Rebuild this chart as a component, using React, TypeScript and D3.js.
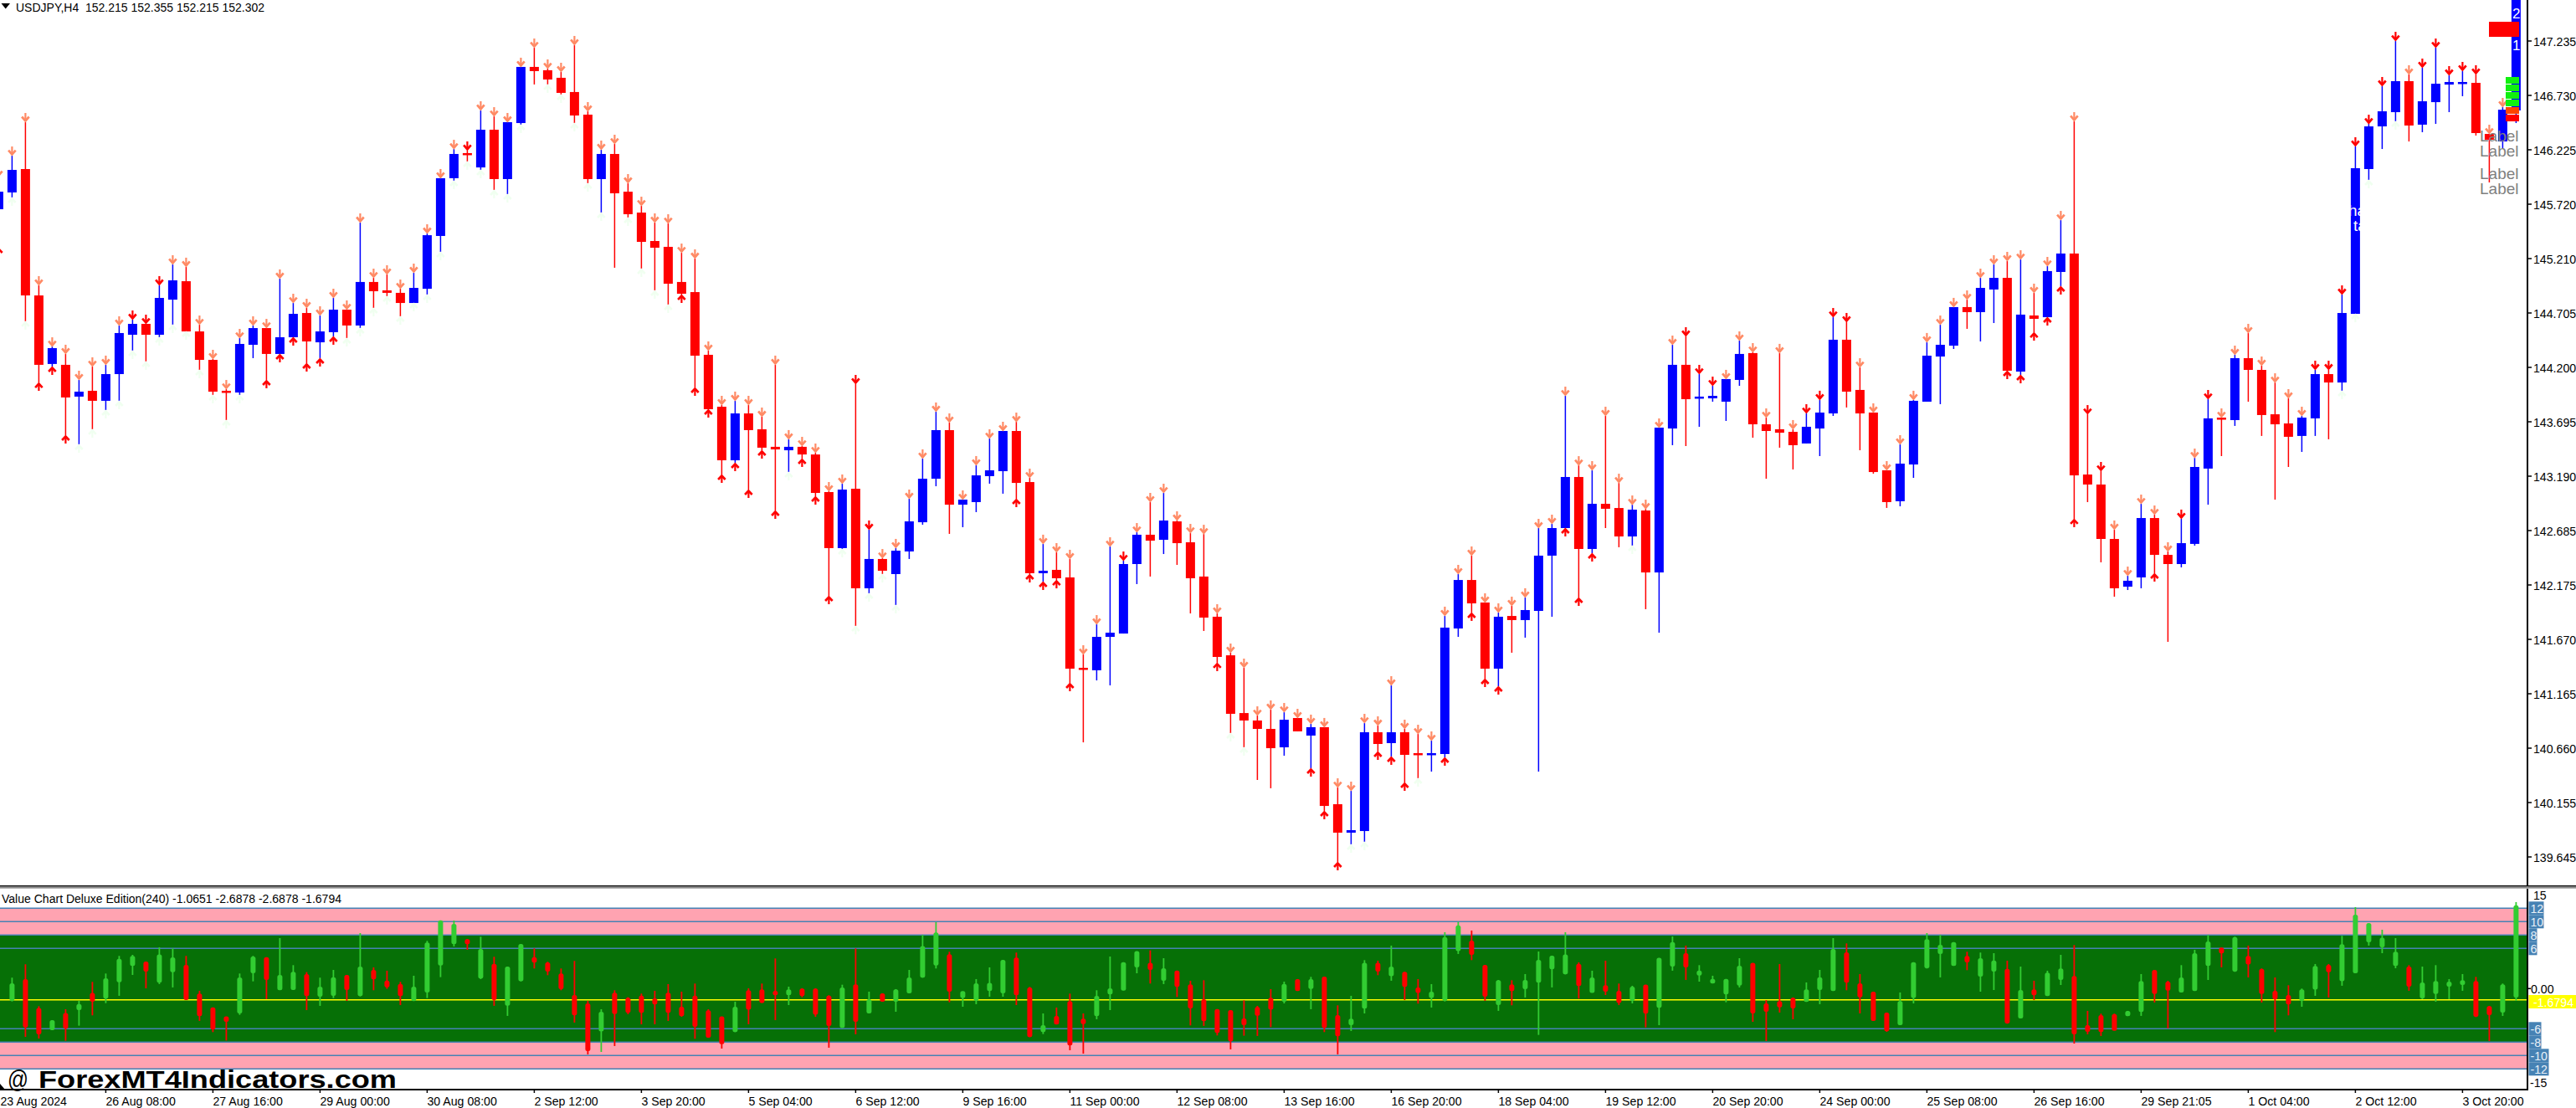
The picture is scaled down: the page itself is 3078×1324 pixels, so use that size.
import React from "react";
import * as d3 from "d3";

const symbolTitle = "USDJPY,H4  152.215 152.355 152.215 152.302";
const indicatorTitle = "Value Chart Deluxe Edition(240) -1.0651 -2.6878 -2.6878 -1.6794";
const watermark = "ForexMT4Indicators.com";

const priceTickLabels = ["147.235","146.730","146.225","145.720","145.210","144.705","144.200","143.695","143.190","142.685","142.175","141.670","141.165","140.660","140.155","139.645"];
const timeTickLabels = ["23 Aug 2024","26 Aug 08:00","27 Aug 16:00","29 Aug 00:00","30 Aug 08:00","2 Sep 12:00","3 Sep 20:00","5 Sep 04:00","6 Sep 12:00","9 Sep 16:00","11 Sep 00:00","12 Sep 08:00","13 Sep 16:00","16 Sep 20:00","18 Sep 04:00","19 Sep 12:00","20 Sep 20:00","24 Sep 00:00","25 Sep 08:00","26 Sep 16:00","29 Sep 21:05","1 Oct 04:00","2 Oct 12:00","3 Oct 20:00"];
const barsPerTimeTick = 8;
const levelTicks = [12, 10, 8, 6, -6, -8, -10, -12];
const overboughtBands = [[8, 12], [-12, -8]];
const lastValue = -1.6794;

const highs = [
145.977,146.171,146.482,144.968,144.400,144.331,144.090,144.214,144.230,144.595,
144.649,144.610,144.968,145.162,145.139,144.602,144.284,144.004,144.478,144.595,
144.571,145.030,144.804,144.758,144.688,144.851,144.742,145.550,145.037,145.069,
144.936,145.084,145.449,145.962,146.233,146.218,146.591,146.536,146.482,146.995,
147.173,146.979,146.948,147.197,146.583,146.226,146.280,145.915,145.705,145.550,
145.542,145.270,145.216,144.362,143.857,143.896,143.857,143.748,144.230,143.539,
143.476,143.414,143.057,143.127,144.051,142.700,142.435,142.529,142.987,143.360,
143.795,143.694,142.979,143.298,143.546,143.616,143.701,143.181,142.568,142.490,
142.428,141.542,141.822,142.544,142.412,142.676,142.956,143.041,142.785,142.668,
142.660,141.923,141.558,141.418,140.975,141.030,141.006,140.952,140.898,140.867,
140.307,140.276,140.905,140.882,141.255,140.851,140.804,140.742,141.900,142.288,
142.459,142.024,141.931,141.993,142.071,142.715,142.754,143.942,143.297,143.251,
143.756,143.134,142.932,142.893,143.647,144.416,144.494,144.144,144.035,144.098,
144.455,144.346,143.740,144.339,143.632,143.779,143.904,144.672,144.626,144.206,
143.787,143.251,143.492,143.904,144.440,144.602,144.766,144.835,145.037,145.162,
145.193,145.208,144.898,145.146,145.573,146.490,143.771,143.243,142.700,142.272,
142.940,142.839,142.498,142.801,143.367,143.911,143.740,144.323,144.525,144.222,
144.066,143.919,143.756,144.183,144.183,144.882,146.257,146.466,146.816,147.235,
146.925,146.987,147.173,146.917,146.956,146.925,146.373,146.622,147.650];

const lows = [
145.317,145.783,144.634,144.066,144.214,143.577,143.492,143.632,143.810,143.896,
144.362,144.261,144.486,144.602,144.540,144.183,143.950,143.717,143.950,144.292,
144.090,144.331,144.486,144.245,144.292,144.494,144.478,144.571,144.758,144.866,
144.680,144.804,144.882,145.278,145.938,146.117,146.039,145.853,145.814,146.459,
146.832,146.832,146.738,146.474,145.915,145.643,145.131,145.597,145.123,144.921,
144.789,144.882,144.020,143.818,143.212,143.321,143.072,143.437,142.878,143.235,
143.360,143.010,142.086,142.521,141.806,142.109,142.288,142.000,142.428,142.746,
143.103,142.661,142.723,142.863,143.127,143.034,142.987,142.288,142.218,142.233,
141.278,140.726,141.301,141.255,141.736,142.195,142.265,142.474,142.373,141.923,
141.760,141.465,140.812,140.680,140.377,140.300,140.602,140.828,140.486,140.090,
139.616,139.779,139.803,140.641,140.595,140.354,140.393,140.455,140.587,141.705,
141.931,141.317,141.247,141.558,141.698,140.455,141.892,142.715,142.070,142.482,
142.715,142.537,142.552,141.962,141.744,143.484,143.476,143.655,143.888,143.709,
144.035,143.554,143.173,143.461,143.259,143.500,143.383,143.756,143.834,143.437,
143.220,142.902,142.917,143.181,143.888,143.865,144.377,144.564,144.447,144.618,
144.175,144.136,144.532,144.672,144.960,142.801,142.956,142.397,142.078,142.140,
142.156,142.296,141.659,142.350,142.552,142.932,143.383,143.663,143.888,143.570,
142.979,143.282,143.422,143.570,143.539,143.989,144.703,145.946,146.233,146.490,
146.303,146.389,146.466,146.575,146.723,146.358,145.923,146.241,146.474];

const bodyUppers = [
145.837,146.039,146.047,144.874,144.385,144.230,143.981,143.989,144.144,144.525,
144.610,144.610,144.851,145.014,145.006,144.540,144.276,143.989,144.424,144.571,
144.571,144.486,144.703,144.711,144.540,144.742,144.742,144.999,144.999,144.921,
144.898,144.944,145.433,145.962,146.187,146.195,146.412,146.412,146.482,146.995,
146.995,146.964,146.894,146.762,146.552,146.187,146.187,145.837,145.643,145.379,
145.325,144.999,144.905,144.323,143.841,143.779,143.779,143.632,143.469,143.469,
143.469,143.398,143.049,143.072,143.080,142.428,142.428,142.505,142.777,143.173,
143.624,143.624,142.979,143.204,143.251,143.616,143.616,143.142,142.319,142.327,
142.257,141.418,141.705,141.744,142.381,142.653,142.653,142.785,142.777,142.583,
142.265,141.892,141.534,140.998,140.929,140.851,140.936,140.952,140.867,140.867,
140.152,139.911,140.820,140.820,140.820,140.820,140.626,140.626,141.791,142.233,
142.233,142.024,141.892,141.899,141.954,142.459,142.715,143.189,143.189,142.940,
142.940,142.901,142.886,142.878,143.647,144.230,144.230,143.935,143.942,144.098,
144.331,144.339,143.678,143.632,143.608,143.655,143.787,144.463,144.463,143.997,
143.787,143.251,143.313,143.896,144.315,144.416,144.766,144.766,144.944,145.037,
145.037,144.696,144.688,145.100,145.263,145.263,143.212,143.119,142.614,142.226,
142.808,142.808,142.466,142.575,143.282,143.733,143.740,144.292,144.292,144.183,
143.771,143.686,143.740,144.144,144.144,144.711,146.055,146.443,146.583,146.863,
146.863,146.676,146.839,146.855,146.855,146.847,146.373,146.598,147.650];

const bodyLowers = [
145.674,145.830,144.874,144.230,144.238,143.927,143.935,143.896,143.896,144.144,
144.509,144.509,144.509,144.835,144.540,144.276,143.981,143.973,143.973,144.416,
144.331,144.331,144.486,144.447,144.439,144.533,144.595,144.595,144.913,144.898,
144.804,144.804,144.936,145.426,145.962,146.187,146.062,145.954,145.954,146.474,
146.956,146.878,146.754,146.544,145.954,145.954,145.822,145.628,145.371,145.317,
144.983,144.890,144.315,143.818,143.344,143.344,143.624,143.461,143.445,143.437,
143.398,143.041,142.529,142.529,142.156,142.156,142.319,142.288,142.498,142.769,
143.173,142.932,142.932,142.956,143.197,143.243,143.134,142.296,142.296,142.249,
141.410,141.402,141.395,141.705,141.736,142.381,142.598,142.606,142.575,142.249,
141.884,141.519,140.991,140.929,140.851,140.672,140.680,140.828,140.789,140.136,
139.888,139.888,139.903,140.711,140.719,140.610,140.610,140.610,140.618,141.783,
142.016,141.410,141.410,141.861,141.861,141.946,142.459,142.715,142.521,142.521,
142.894,142.637,142.637,142.303,142.303,143.639,143.911,143.919,143.919,143.888,
144.090,143.678,143.616,143.600,143.484,143.500,143.639,143.779,143.981,143.779,
143.235,142.956,142.964,143.305,143.888,144.307,144.408,144.719,144.719,144.929,
144.175,144.167,144.657,144.672,145.092,143.204,143.119,142.614,142.156,142.171,
142.257,142.466,142.381,142.381,142.568,143.267,143.725,143.717,144.183,143.764,
143.678,143.562,143.570,143.733,144.066,144.066,144.703,146.047,146.443,146.575,
146.451,146.459,146.668,146.831,146.839,146.381,146.319,146.303,146.591];

// b = close above open, r = close below open
const directions =
"bbrrbrbrbb" + "brbbrrrrbb" + "rbbrbbrbrr" + "rbbbbrbrbb" + "rrrrrbrrrr" +
"rrrrrbrrrb" + "rrrbrbrbbb" + "brbbbbrrbr" + "rrbbbbrbrr" + "rrrrrrbrbr" +
"rbbrbrrbbb" + "rrbrbbbbrb" + "rrbrbbrbbb" + "brrrrbbbrr" + "rrbbbbbrbb" +
"rbrbbrrrrb" + "brrbbbrbrr" + "rrbbrbbbbb" + "rbbbbrrbb";

// o = salmon signal, r = red signal
const upperSignals =
"oooooooooo" + "rrrooooooo" + "oooooooooo" + "oooooroooo" + "oooooooooo" +
"oooooooooo" + "oooorroooo" + "oooooooooo" + "oooorooooo" + "oooooooooo" +
"oooooooooo" + "oooooooooo" + "oooooorrro" + "ooooorrrro" + "oooooooooo" +
"oooooorroo" + "ooororoooo" + "ooorrrrrrr" + "orrrrrooo";

// r = red signal, p = pale signal, n = none
const lowerSignals =
"rpprrrpppp" + "pppppppppn" + "rrrrrrpppp" + "pppppppppp" + "npppppnppp" +
"prrrrrrrrp" + "rrrpppppnn" + "nnnnnnrrrr" + "rnnnnnnnnn" + "nrppnnnnrr" +
"rpprrrpnrn" + "rrrnnnnrrr" + "nnpnnnnnnn" + "nnnnnnnnnn" + "nnnnnnnnnn" +
"rrrrrrnnnn" + "nrnnnnnnnn" + "nnnnnpppnp" + "nnnnnnnnn";

// Value chart, bars 1 to 188
const valueHighs = [
1.63,3.63,-2.63,-4.71,-3.08,-1.83,1.0,2.25,4.88,5.04,4.0,6.17,6.0,4.88,-.33,-2.83,-4.21,2.25,4.88,4.67,
7.54,3.5,2.46,1.63,2.79,2.04,8.29,3.17,2.67,1.0,1.92,7.13,10.17,10.17,7.38,7.75,4.75,3.29,6.63,6.0,
4.0,3.0,4.13,-1.83,-3.08,-.25,-1.29,-.75,-.33,.67,-.46,.75,-3.08,-4.21,-1.96,.04,.75,4.5,.29,.04,
.04,-1.0,.58,6.0,-.46,-.75,-.08,2.79,8.0,9.92,5.5,-.46,1.42,3.17,4.25,5.38,.25,-3.71,-2.83,-.75,
-3.71,-.25,4.79,3.92,5.5,5.71,4.54,2.67,1.17,1.25,-3.08,-3.25,-1.75,-2.58,-.08,1.04,1.42,1.75,1.75,-2.5,
-1.08,4.25,4.17,6.42,2.46,1.42,.67,8.42,9.96,8.67,3.5,1.29,1.25,2.17,5.54,4.92,8.42,3.92,2.67,4.17,
.75,.42,.5,4.54,7.79,6.42,3.5,1.92,1.42,4.54,3.79,-1.71,3.67,-1.33,.92,2.79,7.54,6.75,2.17,-.46,
-3.58,-.58,3.92,8.29,8.0,6.92,5.5,5.38,5.29,4.17,3.29,1.17,2.67,5.04,6.5,-3.33,-3.75,-3.75,-3.33,2.17,
2.75,1.17,3.5,5.79,8.0,6.08,7.75,6.42,3.0,1.67,.5,0,3.67,3.67,7.88,12.17,9.75,8.79,7.54,3.5,
3.29,3.5,1.42,2.17,1.75,-2.58,.75,12.92];

const valueBodyUppers = [
.67,1.29,-3.04,-4.83,-3.79,-2.42,-.79,1.42,4.33,4.75,3.92,4.96,4.54,3.42,-.88,-2.92,-4.29,1.54,4.67,4.58,
1.92,2.38,2.04,.17,1.58,1.92,3.17,2.67,1.08,.58,.17,6.75,10.08,9.54,7.25,5.79,3.58,3.17,6.54,4.58,
3.79,2.13,-1.08,-2.33,-3.58,-.75,-1.5,-1.17,-1.58,-.75,-2.83,-1.17,-3.38,-4.29,-2.83,-.38,-.25,-.46,-.25,-.13,
-.13,-1.17,.04,.5,-1.71,-.83,-.25,1.54,6.21,8.25,5.0,-.5,.67,.71,4.17,4.5,.04,-5.58,-4.21,-2.0,
-4.63,-1.21,-.08,3.83,5.46,3.71,2.92,2.58,.5,-1.71,-3.17,-3.33,-4.58,-2.88,-1.5,.58,1.29,1.29,1.67,-4.08,
-4.63,3.71,3.71,3.17,2.38,.04,-.58,7.58,9.33,7.04,3.42,1.13,.5,1.17,4.17,4.79,4.96,3.58,1.54,.38,
-.46,.17,.46,4.46,6.83,5.17,2.58,1.33,1.33,3.29,3.71,-2.33,-2.0,-1.5,-.25,1.58,5.79,5.29,.67,-.58,
-3.71,-2.0,3.83,7.25,6.42,6.83,4.75,4.42,4.08,2.83,-.33,-.25,2.25,2.88,1.75,-5.58,-4.08,-3.92,-3.46,1.0,
2.67,.92,1.54,5.17,6.92,6.0,7.58,4.75,2.83,-.46,-1.08,-.25,3.25,3.42,6.5,10.92,9.67,7.46,5.38,3.17,
.79,1.0,.92,1.13,1.0,-2.75,.5,12.33];

const valueBodyLowers = [
-1.71,-5.67,-6.71,-6.08,-5.88,-3.08,-1.83,-1.38,1.08,3.5,2.67,1.0,2.58,-1.58,-4.0,-6.0,-4.83,-3.58,2.42,1.42,
-.13,-.08,-1.0,-1.08,-.96,-.08,-1.0,1.5,.33,-1.0,-1.75,-.46,3.58,6.75,6.75,1.63,-1.58,-2.42,1.21,4.0,
2.67,.04,-3.88,-9.21,-6.29,-3.67,-3.5,-3.5,-2.25,-3.5,-4.0,-5.58,-7.21,-8.17,-6.38,-3.04,-2.04,-.88,-.88,-1.0,
-3.79,-5.46,-5.75,-4.83,-3.58,-1.83,-1.83,-.58,1.75,3.58,-.33,-1.29,-1.71,-.25,-.58,-.88,-7.13,-6.38,-5.25,-8.38,
-5.17,-4.0,-.75,-.17,3.29,2.92,1.29,.38,-2.83,-4.75,-6.5,-7.75,-5.33,-3.92,-3.04,-1.83,-.25,.08,-5.75,-7.0,
-5.33,-2.88,2.67,1.96,.38,-.54,-1.29,-1.71,5.71,5.17,-1.08,-2.33,-.25,.04,1.0,3.0,2.25,.5,-.54,-.33,
-2.04,-1.71,-3.63,-2.75,3.42,3.29,2.08,.88,-.75,.58,-3.58,-3.33,-2.67,-2.83,-1.88,-.08,-.25,1.0,-1.17,-4.71,
-6.25,-5.33,-1.29,3.17,5.29,3.5,4.04,1.92,2.67,-5.08,-4.33,-.88,-1.0,1.42,-6.71,-6.33,-6.38,-6.17,-4.0,-3.38,
-.67,-.17,-.46,-.25,3.5,5.38,2.67,3.71,-.67,-1.5,-2.25,-1.71,-.04,2.58,1.21,2.42,7.04,6.29,3.5,.42,
-1.33,-.67,.42,.67,-4.08,-3.83,-3.46,-1.21];

const valueLows = [
-1.92,-7.21,-7.46,-6.21,-7.79,-5.54,-4.0,-2.17,-1.08,2.04,.04,.67,.17,-1.71,-4.83,-6.5,-7.75,-3.92,1.08,-1.58,
-.17,-.17,-3.21,-2.58,-1.42,-1.83,-1.17,-.25,-.04,-2.46,-1.83,-1.42,1.71,6.29,5.79,1.42,-2.58,-4.08,1.08,3.0,
2.0,-.25,-5.08,-9.83,-9.46,-8.58,-3.83,-5.33,-5.33,-4.83,-4.21,-7.5,-7.33,-8.96,-6.5,-5.33,-2.13,-4.71,-2.46,-1.29,
-4.21,-8.83,-5.88,-6.83,-3.71,-1.92,-3.46,-.71,1.63,3.0,-2.04,-2.71,-2.33,-1.21,-1.21,-2.46,-7.25,-6.79,-5.33,-9.21,
-9.71,-4.58,-3.21,-.25,2.29,.75,.67,-1.25,-5.5,-5.58,-7.0,-9.08,-7.04,-7.08,-5.75,-2.21,-.33,-3.08,-6.5,-9.83,
-6.33,-3.71,2.0,1.17,-1.71,-2.25,-2.83,-1.92,5.17,4.25,-1.83,-3.33,-2.5,-1.33,-6.92,.17,2.13,-1.5,-.58,-.96,
-2.46,-2.21,-5.79,-5.46,2.67,1.29,1.04,.79,-2.04,.17,-4.96,-7.83,-3.58,-4.58,-1.96,-2.33,-.33,-.25,-3.71,-4.83,
-6.46,-5.46,-2.21,3.0,1.67,3.42,2.75,-.46,-.21,-5.25,-4.46,-1.71,-1.08,.54,-8.21,-6.83,-7.08,-6.21,-4.08,-4.08,
-2.08,-5.96,-.58,-.33,1.29,3.17,2.5,1.67,-2.08,-6.5,-4.0,-2.71,-1.08,-1.33,.42,2.29,6.42,5.29,3.04,-.33,
-1.58,-1.96,-1.58,-.33,-4.25,-7.83,-4.08,-1.83];

const levelLabels = ["Label", "Label", "Label", "Label"];

// ---- layout
const WIDTH = 3078;
const HEIGHT = 1324;
const PLOT_RIGHT = 3020;
const MAIN_BOTTOM = 1058;
const SUB_BOTTOM = 1302;

const xBar = d3.scaleLinear().domain([0, 188]).range([-1.6, 3006.4]);
const yPrice = d3.scaleLinear().domain([147.616, 139.849]).range([0, 1000]);
const yValue = d3.scaleLinear().domain([-15, 15]).range([1301.3, 1061.3]);
const yPriceTick = d3.scalePoint<string>().domain(priceTickLabels).range([49, 1024]);

const BLUE = "#0000FF";
const RED = "#FF0000";
const SALMON = "#FF8A65";
const PALE = "#F0FFF0";
const GREEN_CANDLE = "#32CD32";
const BAND_GREEN = "#067006";
const BAND_PINK = "#FFA3B1";
const LEVEL_BLUE = "#4682B4";
const FONT = "'Liberation Sans', Arial, sans-serif";

const signalColor = (c: string) => (c === "r" ? RED : c === "p" ? PALE : SALMON);

function Txt(p: { x: number; y: number; size?: number; fill?: string; anchor?: string; sx?: number; children: React.ReactNode }) {
  return (
    <text
      transform={`translate(${p.x},${p.y}) scale(${p.sx ?? 0.92},1)`}
      fontFamily={FONT}
      fontSize={p.size ?? 15.4}
      fill={p.fill ?? "#000"}
      textAnchor={p.anchor ?? "start"}
    >
      {p.children}
    </text>
  );
}

function DownArrow({ x, y, color }: { x: number; y: number; color: string }) {
  return (
    <g transform={`translate(${x},${y})`} fill="none" stroke={color} strokeLinejoin="miter">
      <path d="M0,-11V-1" strokeWidth={2.2} />
      <path d="M-4.3,-6.5L0,-1.5L4.3,-6.5" strokeWidth={2.7} />
    </g>
  );
}

function UpArrow({ x, y, color }: { x: number; y: number; color: string }) {
  return (
    <g transform={`translate(${x},${y})`} fill="none" stroke={color} strokeLinejoin="miter">
      <path d="M0,10V1" strokeWidth={2.2} />
      <path d="M-4.3,6L0,1.5L4.3,6" strokeWidth={2.7} />
    </g>
  );
}

export default function App() {
  const bars = d3.range(highs.length);
  const valueBars = d3.range(valueHighs.length);
  return (
    <svg
      width={WIDTH}
      height={HEIGHT}
      viewBox={`0 0 ${WIDTH} ${HEIGHT}`}
      style={{ position: "fixed", left: 0, top: 0, display: "block", background: "#fff" }}
    >
      <defs>
        <clipPath id="mainClip"><rect x={0} y={0} width={PLOT_RIGHT} height={MAIN_BOTTOM} /></clipPath>
        <clipPath id="subClip"><rect x={0} y={1062} width={PLOT_RIGHT} height={SUB_BOTTOM - 1062} /></clipPath>
        <clipPath id="barText"><rect x={2809} y={200} width={11} height={100} /></clipPath>
      </defs>

      {/* main pane */}
      <g clipPath="url(#mainClip)">
        {bars.map((i) => {
          const x = xBar(i);
          const c = directions[i] === "b" ? BLUE : RED;
          const top = yPrice(bodyUppers[i]);
          const bot = yPrice(bodyLowers[i]);
          return (
            <g key={i}>
              <line x1={x} x2={x} y1={yPrice(highs[i])} y2={yPrice(lows[i])} stroke={c} strokeWidth={1.5} />
              <rect x={x - 5.5} y={top} width={11} height={Math.max(bot - top, 2.5)} fill={c} />
            </g>
          );
        })}
        {bars.map((i) => (
          <g key={i}>
            <DownArrow x={xBar(i)} y={yPrice(highs[i])} color={signalColor(upperSignals[i])} />
            {lowerSignals[i] !== "n" && (
              <UpArrow x={xBar(i)} y={yPrice(lows[i])} color={signalColor(lowerSignals[i])} />
            )}
          </g>
        ))}
      </g>

      {/* overlay objects near the last bars */}
      <g clipPath="url(#barText)">
        <Txt x={2806} y={258} size={19} fill="#fff" sx={1}>ha</Txt>
        <Txt x={2812} y={276} size={19} fill="#fff" sx={1}>ta</Txt>
      </g>
      <Txt x={3002} y={22} size={17} fill="#fff" sx={1}>2</Txt>
      <Txt x={3002} y={60} size={17} fill="#fff" sx={1}>1</Txt>
      <rect x={2974} y={26} width={36} height={18} fill={RED} />
      {[92, 101, 110, 119].map((y) => <rect key={y} x={2994} y={y} width={16} height={8} fill="#10F010" />)}
      <rect x={2994} y={128} width={16} height={8} fill="#FF4500" />
      <rect x={2994} y={137} width={16} height={8} fill={RED} />
      {levelLabels.map((t, k) => (
        <Txt key={k} x={3009.5} y={[169, 187, 214, 232][k]} size={19} fill="#808080" anchor="end" sx={1}>{t}</Txt>
      ))}

      {/* title */}
      <path d="M1.5,4H12L6.7,10.5Z" fill="#000" />
      <text x={19} y={13.5} fontFamily={FONT} fontSize={15.4} textLength={297} lengthAdjust="spacingAndGlyphs" style={{ whiteSpace: "pre" }}>{symbolTitle}</text>

      {/* main axis */}
      <line x1={PLOT_RIGHT} x2={PLOT_RIGHT} y1={0} y2={MAIN_BOTTOM} stroke="#000" strokeWidth={2} />
      {priceTickLabels.map((t) => (
        <g key={t}>
          <line x1={PLOT_RIGHT} x2={PLOT_RIGHT + 5} y1={yPriceTick(t)} y2={yPriceTick(t)} stroke="#000" strokeWidth={1.5} />
          <Txt x={3027} y={(yPriceTick(t) as number) + 5.5}>{t}</Txt>
        </g>
      ))}

      {/* pane separator */}
      <line x1={0} x2={WIDTH} y1={1058.7} y2={1058.7} stroke="#000" strokeWidth={1.6} />
      <line x1={0} x2={WIDTH} y1={1060.9} y2={1060.9} stroke="#000" strokeWidth={1} opacity={0.75} />

      {/* value chart */}
      <text x={2} y={1078.5} fontFamily={FONT} fontSize={15.4} textLength={406} lengthAdjust="spacingAndGlyphs">{indicatorTitle}</text>
      <rect x={0} y={yValue(8)} width={PLOT_RIGHT} height={yValue(-8) - yValue(8)} fill={BAND_GREEN} />
      {overboughtBands.map(([a, b]) => (
        <rect key={a} x={0} y={yValue(b)} width={PLOT_RIGHT} height={yValue(a) - yValue(b)} fill={BAND_PINK} />
      ))}
      {levelTicks.map((v) => (
        <line key={v} x1={0} x2={PLOT_RIGHT} y1={yValue(v)} y2={yValue(v)} stroke={LEVEL_BLUE} strokeWidth={1.6} />
      ))}
      <line x1={0} x2={PLOT_RIGHT} y1={yValue(lastValue)} y2={yValue(lastValue)} stroke="#FFFF00" strokeWidth={1.6} />
      <g clipPath="url(#subClip)">
        {valueBars.map((i) => {
          const x = xBar(i + 1);
          const c = directions[i + 1] === "b" ? GREEN_CANDLE : RED;
          const top = yValue(valueBodyUppers[i]);
          const bot = yValue(valueBodyLowers[i]);
          return (
            <g key={i}>
              <line x1={x} x2={x} y1={yValue(valueHighs[i])} y2={yValue(valueLows[i])} stroke={c} strokeWidth={1.8} />
              <rect x={x - 3} y={top - 1} width={6} height={Math.max(bot - top, 2) + 2} rx={2.5} fill={c} />
            </g>
          );
        })}
      </g>

      {/* value axis */}
      <line x1={PLOT_RIGHT} x2={PLOT_RIGHT} y1={1062} y2={SUB_BOTTOM} stroke="#000" strokeWidth={2} />
      {levelTicks.map((v) => {
        const t = String(v);
        const w = t.length === 1 ? 10 : t.length === 2 ? (v < 0 ? 15 : 18) : 24;
        return (
          <g key={v}>
            <rect x={3021.5} y={yValue(v) - 8} width={w} height={16} fill={LEVEL_BLUE} />
            <Txt x={3023.5} y={yValue(v) + 5.5} fill="#E8F0F8">{t}</Txt>
          </g>
        );
      })}
      <Txt x={3027} y={1074.5}>15</Txt>
      <line x1={PLOT_RIGHT} x2={PLOT_RIGHT + 4} y1={yValue(0)} y2={yValue(0)} stroke="#000" strokeWidth={1.5} />
      <Txt x={3024} y={yValue(0) + 6}>0.00</Txt>
      <Txt x={3023} y={1298.5}>-15</Txt>
      <rect x={3021.5} y={1189} width={WIDTH - 3021.5} height={16} fill="#FFFF00" />
      <Txt x={3027} y={1202.5} fill="#fff">{String(lastValue)}</Txt>

      {/* time axis */}
      <line x1={0} x2={PLOT_RIGHT + 1} y1={SUB_BOTTOM} y2={SUB_BOTTOM} stroke="#000" strokeWidth={2} />
      {timeTickLabels.map((t, k) => {
        const x = xBar(k * barsPerTimeTick);
        return (
          <g key={t}>
            <line x1={x} x2={x} y1={SUB_BOTTOM} y2={SUB_BOTTOM + 4} stroke="#000" strokeWidth={1.5} />
            <Txt x={Math.max(x, 0.5)} y={1320.5}>{t}</Txt>
          </g>
        );
      })}

      {/* watermark */}
      <path d="M0,1295L6,1302H0Z" fill="#000" />
      <text x={9} y={1300} fontFamily={FONT} fontSize={30} textLength={25} lengthAdjust="spacingAndGlyphs">@</text>
      <text x={46} y={1300} fontFamily={FONT} fontSize={30} fontWeight="bold" textLength={428} lengthAdjust="spacingAndGlyphs">{watermark}</text>
    </svg>
  );
}
